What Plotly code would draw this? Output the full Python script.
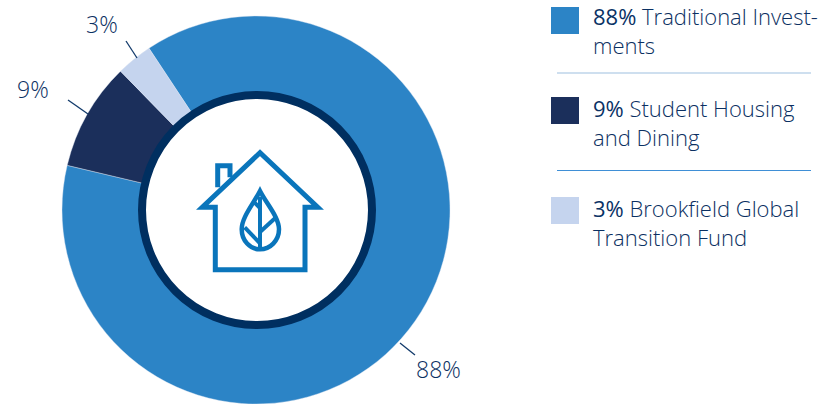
import plotly.graph_objects as go

# Data
categories = ["Traditional Investments", "Student Housing and Dining", "Brookfield Global Transition Fund"]
values = [88, 9, 3]
slice_colors = ["#2C84C6", "#1B2F5B", "#C5D4EE"]
pct_labels = ["88%", "9%", "3%"]
legend_lines = [
    ("Traditional Invest-", "ments"),
    ("Student Housing", "and Dining"),
    ("Brookfield Global", "Transition Fund"),
]

TEXT = "#0B3062"
BOLD = "#0A3265"
FONT = "Open Sans"
SIZE = 22
W, H = 837, 404
CX, CY, R = 256, 210, 194
ICON = "#0A75BB"

fig = go.Figure()
fig.add_trace(go.Scatter(x=[], y=[], showlegend=False, hoverinfo="skip"))
fig.add_trace(go.Pie(
    values=values, labels=categories, sort=False, direction="clockwise",
    rotation=-33.5, hole=0.6,
    marker=dict(colors=slice_colors, line=dict(color="#DDE6F2", width=0.4)),
    textinfo="none", showlegend=False, hoverinfo="label+percent",
    domain=dict(x=[(CX - R) / W, (CX + R) / W], y=[1 - (CY + R) / H, 1 - (CY - R) / H]),
))

shapes = [dict(type="circle", x0=CX + 1 - 115, x1=CX + 1 + 115, y0=CY - 115, y1=CY + 115,
               fillcolor="white", line=dict(color="#002F60", width=8))]

def z(x, y):
    return f"{170 + x / 3:.1f},{130 + y / 3:.1f}"

def icon(path_pts, width=5):
    shapes.append(dict(type="path", path=path_pts, line=dict(color=ICON, width=width), fillcolor="rgba(0,0,0,0)"))

house = ("M" + z(136, 419) + "L" + z(136, 232) + "L" + z(97, 232) + "L" + z(270, 68)
         + "L" + z(443, 232) + "L" + z(405, 232) + "L" + z(405, 419) + "Z")
icon(house)
icon("M" + z(143, 172) + "L" + z(143, 107) + "L" + z(180, 107) + "L" + z(180, 142))
leaf = ("M" + z(270, 183) + "C" + z(250, 222) + " " + z(215, 262) + " " + z(215, 298)
        + "C" + z(215, 332) + " " + z(240, 358) + " " + z(270, 358)
        + "C" + z(300, 358) + " " + z(327, 332) + " " + z(327, 298)
        + "C" + z(327, 262) + " " + z(290, 222) + " " + z(270, 183) + "Z")
icon(leaf, 4.5)
icon("M" + z(270, 200) + "L" + z(270, 355), 4)
icon("M" + z(270, 340) + "L" + z(224, 292), 4)
icon("M" + z(270, 306) + "L" + z(316, 264), 4)
icon("M" + z(270, 234) + "L" + z(250, 214), 4)

# Leaders
for x0, y0, x1, y1 in [(126, 41, 137, 58), (68, 100, 88, 114), (400, 343, 415, 355)]:
    shapes.append(dict(type="line", x0=x0, y0=y0, x1=x1, y1=y1, line=dict(color="#123A6B", width=1.3)))

# Legend swatches and rules
for col, y0 in zip(slice_colors, [7, 97, 197]):
    shapes.append(dict(type="rect", x0=551, x1=579, y0=y0, y1=y0 + 27, fillcolor=col, line=dict(width=0)))
shapes.append(dict(type="line", x0=557, x1=811, y0=73, y1=73, line=dict(color="#9DBFDF", width=1.2)))
shapes.append(dict(type="line", x0=557, x1=811, y0=170.5, y1=170.5, line=dict(color="#3F8FD6", width=1)))

ann = []
def text(x, y, s, anchor="left", weight=300, size=SIZE):
    ann.append(dict(x=x, y=y, xref="x", yref="y", text=s, showarrow=False, xanchor=anchor, yanchor="middle",
                    font=dict(family=FONT, size=size, color=TEXT, weight=weight), borderpad=0, borderwidth=0))

for lab, (x, y) in zip(pct_labels, [(438, 369), (32.5, 89), (102, 24)]):
    text(x, y, lab, "center", size=23)

for lab, (l1, l2), y in zip(pct_labels, legend_lines, [16, 108, 208]):
    text(593, y, f"<span style='font-weight:500;color:{BOLD}'>{lab}</span> {l1}")
    text(593, y + 29, l2)

fig.update_layout(
    width=W, height=H, margin=dict(l=0, r=0, t=0, b=0),
    paper_bgcolor="white", plot_bgcolor="white",
    xaxis=dict(range=[0, W], visible=False, fixedrange=True),
    yaxis=dict(range=[H, 0], visible=False, fixedrange=True),
    shapes=shapes, annotations=ann, showlegend=False,
)
fig.write_html("out.html", config=dict(displayModeBar=False),
               post_script="document.body.style.margin='0';document.documentElement.style.overflow='hidden';")
